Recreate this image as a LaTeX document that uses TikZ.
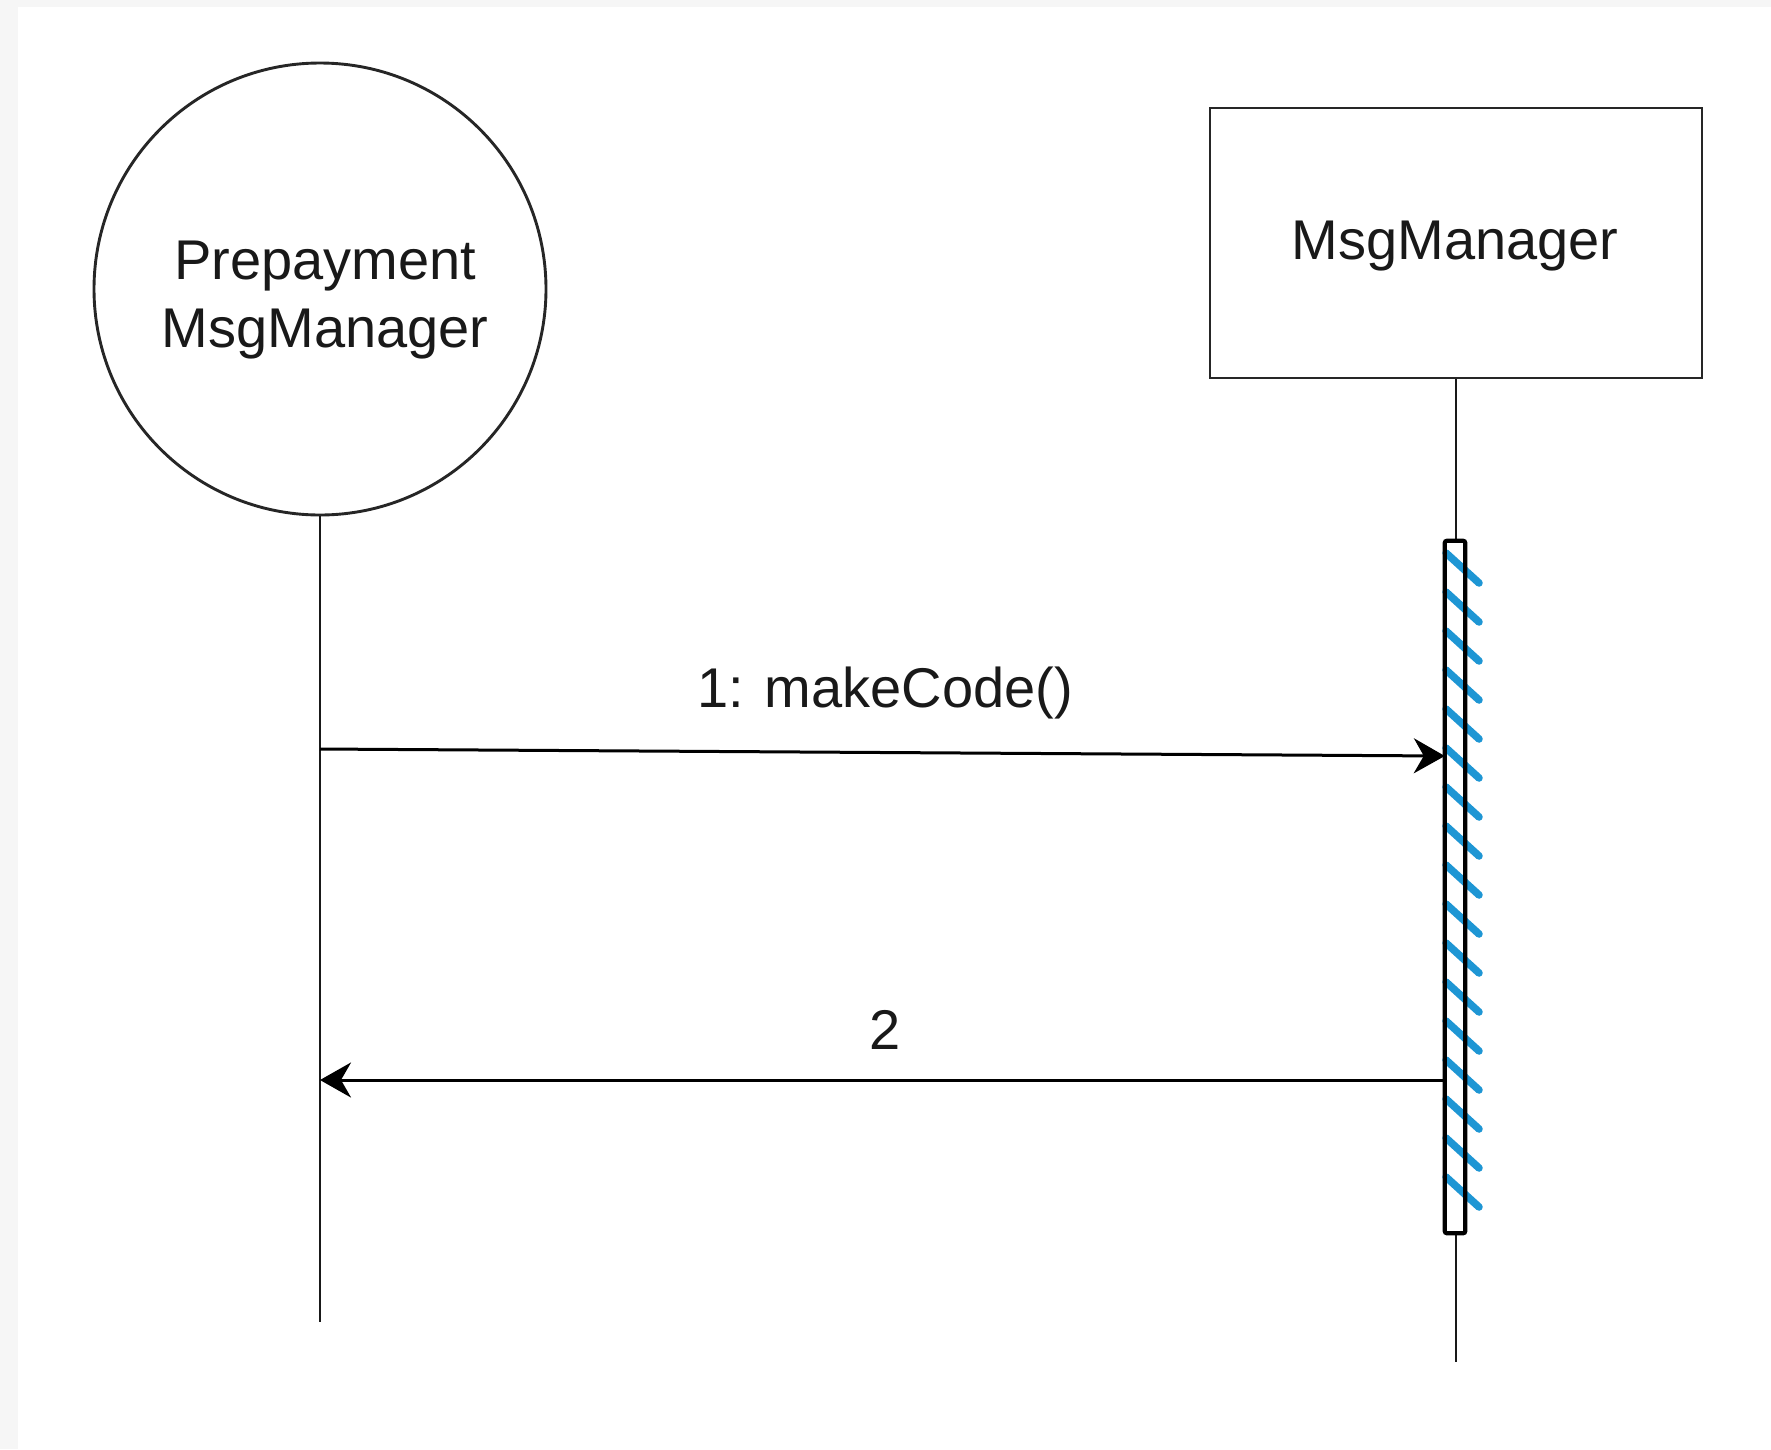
\documentclass[tikz,border=0pt]{standalone}
\usepackage{fontspec}
\setmainfont{Liberation Sans}
\usetikzlibrary{arrows.meta}
\definecolor{pagegray}{RGB}{246,246,246}
\definecolor{hatchblue}{RGB}{30,150,212}
\tikzset{
  lbl/.style={font=\fontsize{56}{68}\selectfont, text=black!90, align=center},
  obj/.style={draw=black!85, line width=2.9pt, fill=white},
  lifeline/.style={draw=black!90, line width=2.7pt},
  msg/.style={draw=black, line width=3pt, -{Stealth[length=31pt, width=35pt, inset=10pt]}},
  actbar/.style={draw=black, line width=4.2pt, rounded corners=2pt},
  hatch/.style={draw=hatchblue, line width=7.5pt, line cap=round},
}
\begin{document}
\begin{tikzpicture}[x=1pt, y=-1pt]
  % canvas: light grey strip on the top and left edges
  \fill[pagegray] (0,0) rectangle (1771,1449);
  \fill[white] (18,7) rectangle (1771,1449);
  \useasboundingbox (0,0) rectangle (1771,1449);

  % participants
  \node[obj, circle, minimum size=452pt, inner sep=0pt] (pre) at (320,289) {};
  \node[lbl] (preText) at (325,300) {Prepayment\\MsgManager};
  \node[obj, rectangle, minimum width=492pt, minimum height=270pt] (mgr) at (1456,243) {};
  \node[lbl] (mgrText) at (1455,246) {MsgManager};

  % lifelines
  \coordinate (preEnd) at (320,1322);
  \coordinate (mgrEnd) at (1456,1362);
  \draw[lifeline] (pre.south) -- (preEnd);
  \draw[lifeline] (mgr.south) -- (mgrEnd);

  % activation bar with blue hatching
  \node[draw=none, fill=white, minimum width=20pt, minimum height=692pt, inner sep=0pt] (act) at (1455,887) {};
  \foreach \y in {553,592,...,1200} {
    \draw[hatch] (1446,\y) -- (1479,\y+30);
  }
  \draw[actbar] (act.north west) rectangle (act.south east);

  % messages
  \coordinate (m1s) at (320,749);
  \coordinate (m2e) at (320,1080);
  \coordinate (m1e) at (act.west |- 0,756);
  \coordinate (m2s) at (act.west |- 0,1080);
  \draw[msg] (m1s) -- (m1e);
  \draw[msg] (m2s) -- (m2e);
  \node[lbl] (l1) at (885,693) {1: makeCode()};
  \node[lbl] (l2) at (885,1030) {2};
\end{tikzpicture}
\end{document}
